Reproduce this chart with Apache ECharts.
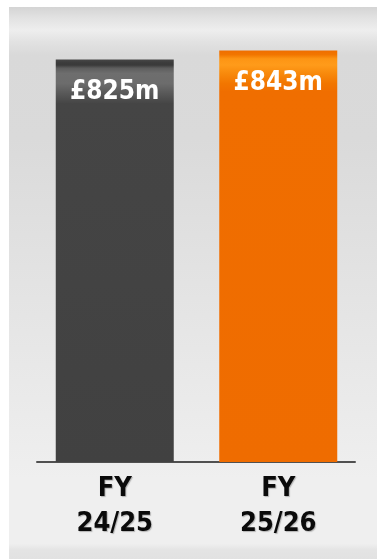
<!DOCTYPE html>
<html>
<head>
<meta charset="utf-8">
<script src="https://cdn.jsdelivr.net/npm/echarts@6/dist/echarts.min.js"></script>
<style>
html,body{margin:0;padding:0;background:#ffffff;}
#chart{width:377px;height:559px;}
</style>
</head>
<body>
<div id="chart"></div>
<script>
const categories = ['FY\n24/25', 'FY\n25/26'];
const values = [825, 843];
const valueLabels = ['£825m', '£843m'];

const chart = echarts.init(document.getElementById('chart'), null, {renderer: 'canvas'});

const darkGrad = new echarts.graphic.LinearGradient(0, 0, 0, 1, [
  {offset: 0, color: '#474747'},
  {offset: 0.008, color: '#3c3c3c'},
  {offset: 0.014, color: '#3a3a3a'},
  {offset: 0.022, color: '#5e5e5e'},
  {offset: 0.035, color: '#6e6e6e'},
  {offset: 0.06, color: '#6c6c6c'},
  {offset: 0.085, color: '#585858'},
  {offset: 0.11, color: '#454545'},
  {offset: 1, color: '#414141'}
]);
const orangeGrad = new echarts.graphic.LinearGradient(0, 0, 0, 1, [
  {offset: 0, color: '#ef6e00'},
  {offset: 0.01, color: '#f27600'},
  {offset: 0.02, color: '#fd9514'},
  {offset: 0.035, color: '#ff9b1a'},
  {offset: 0.055, color: '#f88a0c'},
  {offset: 0.08, color: '#f27600'},
  {offset: 0.1, color: '#f06e00'},
  {offset: 1, color: '#ef6c00'}
]);
const barColors = [darkGrad, orangeGrad];

chart.setOption({
  animation: false,
  backgroundColor: '#ffffff',
  graphic: [{
    type: 'rect',
    left: 9, top: 7,
    shape: {width: 368, height: 552},
    style: {
      fill: new echarts.graphic.LinearGradient(0, 0, 0, 1, [
        {offset: 0, color: '#d4d4d4'},
        {offset: 0.02, color: '#e2e2e2'},
        {offset: 0.042, color: '#eeeeee'},
        {offset: 0.063, color: '#e2e2e2'},
        {offset: 0.087, color: '#d9d9d9'},
        {offset: 0.24, color: '#dadada'},
        {offset: 0.53, color: '#e4e4e4'},
        {offset: 0.855, color: '#efefef'},
        {offset: 0.972, color: '#efefef'},
        {offset: 0.984, color: '#e4e4e4'},
        {offset: 1, color: '#e2e2e2'}
      ])
    },
    z: -10
  }],
  grid: [
    {left: 33, right: 17, top: 22.8, bottom: 97},
    {left: 37, right: 22, top: 22.8, bottom: 97}
  ],
  xAxis: [{
    type: 'category',
    gridIndex: 0,
    data: categories,
    axisLine: {show: false},
    axisTick: {show: false},
    axisLabel: {
      color: '#0a0a0a',
      fontFamily: 'DejaVu Sans Condensed',
      fontWeight: 'bold',
      fontSize: 27,
      lineHeight: 35,
      margin: 9,
      textShadowColor: 'rgba(0,0,0,0.25)',
      textShadowBlur: 1,
      textShadowOffsetX: 1,
      textShadowOffsetY: 1
    }
  }, {
    type: 'category',
    gridIndex: 1,
    data: categories,
    axisLine: {show: true, lineStyle: {color: '#505050', width: 2}},
    axisTick: {show: false},
    axisLabel: {show: false}
  }],
  yAxis: [{
    type: 'value', gridIndex: 0, min: 0, max: 900,
    show: false
  }, {
    type: 'value', gridIndex: 1, min: 0, max: 900,
    show: false
  }],
  series: [{
    type: 'bar',
    xAxisIndex: 0,
    yAxisIndex: 0,
    barWidth: 118,
    data: values.map((v, i) => ({
      value: v,
      itemStyle: {color: barColors[i]},
      label: {formatter: valueLabels[i]}
    })),
    label: {
      show: true,
      position: 'insideTop',
      distance: 19,
      color: '#ffffff',
      fontFamily: 'DejaVu Sans Condensed',
      fontWeight: 'bold',
      fontSize: 26,
      lineHeight: 28
    }
  }]
});
</script>
</body>
</html>
